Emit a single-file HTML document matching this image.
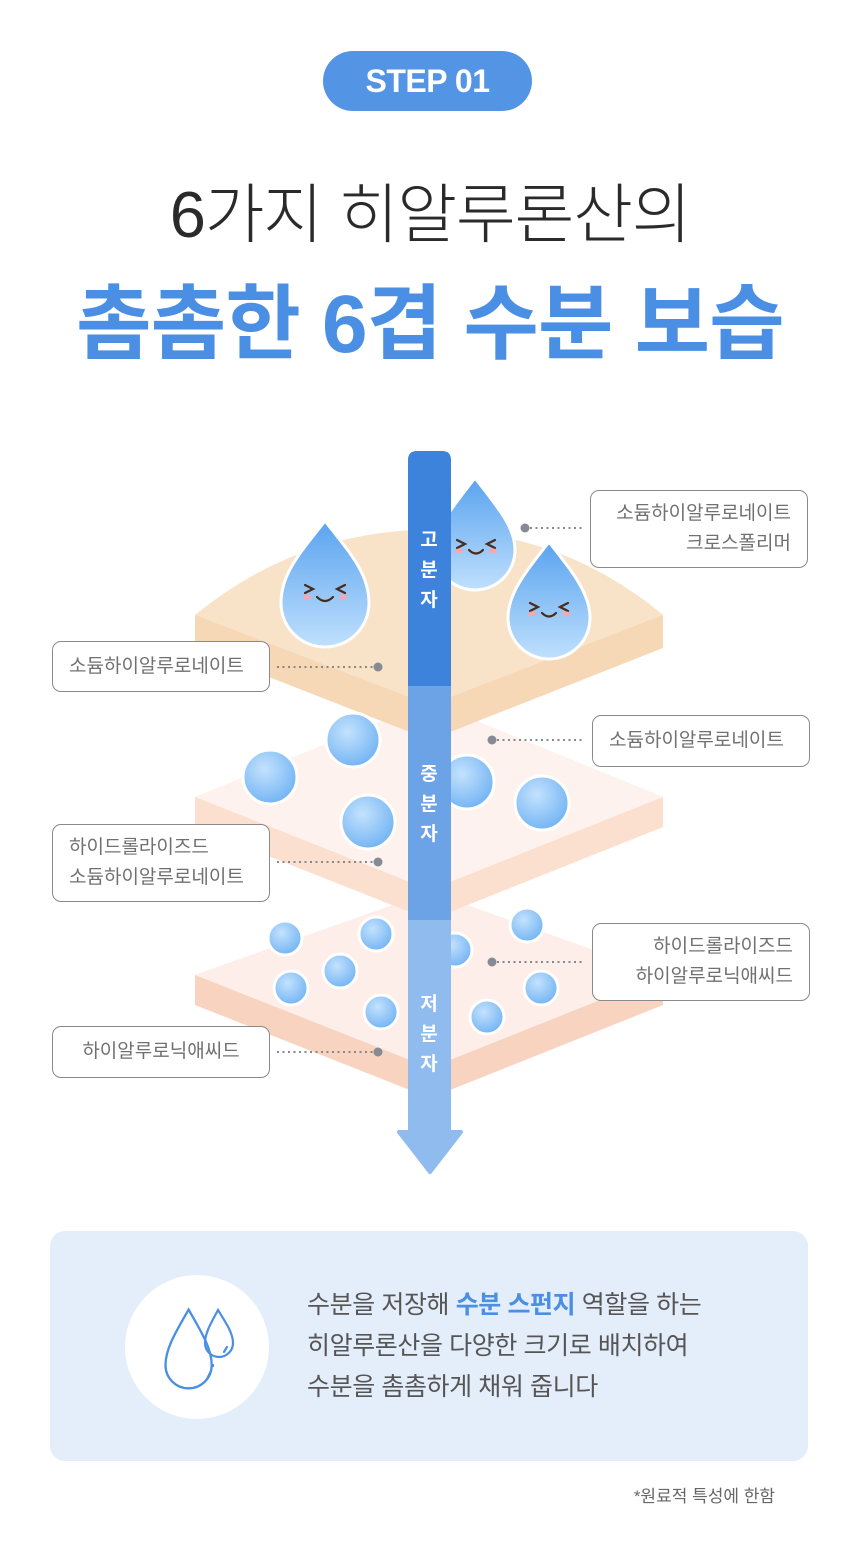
<!DOCTYPE html>
<html><head><meta charset="utf-8"><style>
*{margin:0;padding:0;box-sizing:border-box}
body{width:860px;height:1550px;background:#fff;position:relative;overflow:hidden;font-family:"Liberation Sans","Noto Sans CJK KR",sans-serif}
.abs{position:absolute}
.pill{left:323px;top:51px;width:209px;height:60px;border-radius:30px;background:#5395e4;color:#fff;font-weight:bold;font-size:32px;text-align:center;line-height:60px;letter-spacing:-0.5px}
.t1{left:0;width:860px;top:183px;line-height:64px;text-align:center;font-size:65px;color:#2a2a2a;font-weight:300;letter-spacing:-1.2px}
.t2{left:0;width:860px;top:284px;line-height:82px;text-align:center;font-size:82px;color:#4a8fe3;font-weight:bold;letter-spacing:-0.8px}
.lb{border:1.3px solid #8a8a8a;border-radius:9px;background:#fff;color:#707070;font-size:19px;line-height:30px;display:flex;flex-direction:column;justify-content:center;padding:0 16px}
.box{left:50px;top:1231px;width:758px;height:230px;border-radius:15px;background:#e4eefb}
.circ{left:125px;top:1275px;width:144px;height:144px;border-radius:50%;background:#fff}
.bt{left:307px;top:1285px;font-size:25px;line-height:41px;color:#555;letter-spacing:-0.4px}
.note{right:85px;top:1482px;font-size:17px;color:#666}
</style></head><body>
<div class="abs pill">STEP 01</div>
<div class="abs t1">6가지 히알루론산의</div>
<div class="abs t2">촘촘한 6겹 수분 보습</div>

<svg class="abs" style="left:0;top:0" width="860" height="1550">
<defs>
<radialGradient id="bub" cx="0.4" cy="0.35" r="0.7"><stop offset="0" stop-color="#c4e2fd"/><stop offset="1" stop-color="#6fb2f3"/></radialGradient>
<linearGradient id="drop" x1="0" y1="0" x2="0" y2="1"><stop offset="0" stop-color="#5aa3ef"/><stop offset="1" stop-color="#bfe0fd"/></linearGradient>
</defs>
<path d="M195 975 L430 892 L663 975 L663 1005 L430 1098 L195 1005Z" fill="#f8d3c0"/>
<path d="M195 975 L430 892 L663 975 L430 1068Z" fill="#fdeeea"/>
<path d="M195 797 L430 702 L663 797 L663 827 L430 920 L195 827Z" fill="#fbdfcf"/>
<path d="M195 797 L430 702 L663 797 L430 890Z" fill="#fef2ee"/>
<path d="M195 615 Q300 530 430 530 Q560 530 663 615 L663 648 L430 740 L195 648Z" fill="#f6d8b6"/>
<path d="M195 615 Q300 530 430 530 Q560 530 663 615 L430 705Z" fill="#f9e3c8"/>
<g fill="url(#bub)" stroke="#fff" stroke-width="3">
<circle cx="270" cy="777" r="27"/><circle cx="353" cy="740" r="27"/><circle cx="368" cy="822" r="27"/><circle cx="467" cy="782" r="27"/><circle cx="542" cy="803" r="27"/>
<circle cx="285" cy="938" r="17"/><circle cx="376" cy="934" r="17"/><circle cx="340" cy="971" r="17"/><circle cx="291" cy="988" r="17"/><circle cx="381" cy="1012" r="17"/><circle cx="455" cy="950" r="17"/><circle cx="527" cy="925" r="17"/><circle cx="541" cy="988" r="17"/><circle cx="487" cy="1017" r="17"/>
</g>
<g stroke="#fff" stroke-width="3" fill="url(#drop)">
<path d="M325 521 C298 555 281 575 281 603 A44 44 0 0 0 369 603 C369 575 352 555 325 521Z"/>
<path d="M475 478 C450 510 435 528 435 550 A40 40 0 0 0 515 550 C515 528 500 510 475 478Z"/>
<path d="M549 542 C524 574 508 594 508 618 A41 41 0 0 0 590 618 C590 594 574 574 549 542Z"/>
</g>
<g stroke="#4a2a1a" stroke-width="2.2" fill="none" stroke-linecap="round">
<path d="M305 585 l8 4 l-8 4 M345 585 l-8 4 l8 4 M317 597 q8 8 16 0"/>
<path d="M457 540 l8 4 l-8 4 M495 540 l-8 4 l8 4 M469 550 q7 7 14 0"/>
<path d="M530 603 l8 4 l-8 4 M568 603 l-8 4 l8 4 M542 613 q7 7 14 0"/>
</g>
<g fill="#f7a7b0"><ellipse cx="307" cy="597" rx="4" ry="2.5"/><ellipse cx="343" cy="597" rx="4" ry="2.5"/><ellipse cx="459" cy="551" rx="4" ry="2.5"/><ellipse cx="493" cy="551" rx="4" ry="2.5"/><ellipse cx="532" cy="614" rx="4" ry="2.5"/><ellipse cx="566" cy="614" rx="4" ry="2.5"/></g>
<path d="M408 460 Q408 451 417 451 L442 451 Q451 451 451 460 L451 686 L408 686Z" fill="#3d82db"/>
<rect x="408" y="686" width="43" height="234" fill="#6ca2e6"/>
<rect x="408" y="920" width="43" height="212" fill="#90bbef"/>
<path d="M399 1132 L461 1132 L430 1172Z" fill="#90bbef" stroke="#90bbef" stroke-width="4" stroke-linejoin="round"/>
<g fill="#fff" font-size="19" font-weight="bold" text-anchor="middle" font-family="Liberation Sans,Noto Sans CJK KR,sans-serif">
<text x="429" y="546">고</text><text x="429" y="576">분</text><text x="429" y="606">자</text>
<text x="429" y="780">중</text><text x="429" y="810">분</text><text x="429" y="840">자</text>
<text x="429" y="1010">저</text><text x="429" y="1040">분</text><text x="429" y="1070">자</text>
</g>
<g stroke="#888" stroke-width="2" stroke-dasharray="2 3.5" fill="none">
<line x1="277" y1="667" x2="376" y2="667"/><line x1="277" y1="862" x2="376" y2="862"/><line x1="277" y1="1052" x2="376" y2="1052"/>
<line x1="530" y1="528" x2="585" y2="528"/><line x1="497" y1="740" x2="585" y2="740"/><line x1="497" y1="962" x2="585" y2="962"/>
</g>
<g fill="#868a94"><circle cx="378" cy="667" r="4.5"/><circle cx="378" cy="862" r="4.5"/><circle cx="378" cy="1052" r="4.5"/><circle cx="525" cy="528" r="4.5"/><circle cx="492" cy="740" r="4.5"/><circle cx="492" cy="962" r="4.5"/></g>
</svg>

<div class="abs lb" style="left:52px;top:641px;width:218px;height:51px;">소듐하이알루로네이트</div>
<div class="abs lb" style="left:52px;top:824px;width:218px;height:78px;">하이드롤라이즈드<br>소듐하이알루로네이트</div>
<div class="abs lb" style="left:52px;top:1026px;width:218px;height:52px;text-align:center;">하이알루로닉애씨드</div>
<div class="abs lb" style="left:590px;top:490px;width:218px;height:78px;text-align:right;">소듐하이알루로네이트<br>크로스폴리머</div>
<div class="abs lb" style="left:592px;top:715px;width:218px;height:52px;">소듐하이알루로네이트</div>
<div class="abs lb" style="left:592px;top:923px;width:218px;height:78px;text-align:right;">하이드롤라이즈드<br>하이알루로닉애씨드</div>

<div class="abs box"></div>
<div class="abs circ"></div>
<svg class="abs" style="left:125px;top:1275px" width="144" height="144">
<g fill="none" stroke="#4a8fe3" stroke-width="2.2" stroke-linecap="round">
<path d="M72 31 C60 52 50 68 50 84 A22 22 0 0 0 94 84 C94 68 84 52 72 31Z" transform="translate(-12,2) scale(1.05)"/>
<path d="M95 35 C88 48 82 58 82 68 A14 14 0 0 0 110 68 C110 58 103 48 95 35Z" transform="translate(-2,0)"/>
<path d="M86 96 l-4 8 M88 90 l0 1 M102 72 l-3 5"/>
</g>
</svg>
<div class="abs bt">수분을 저장해 <b style="color:#4a8fe3">수분 스펀지</b> 역할을 하는<br>히알루론산을 다양한 크기로 배치하여<br>수분을 촘촘하게 채워 줍니다</div>
<div class="abs note">*원료적 특성에 한함</div>
</body></html>
